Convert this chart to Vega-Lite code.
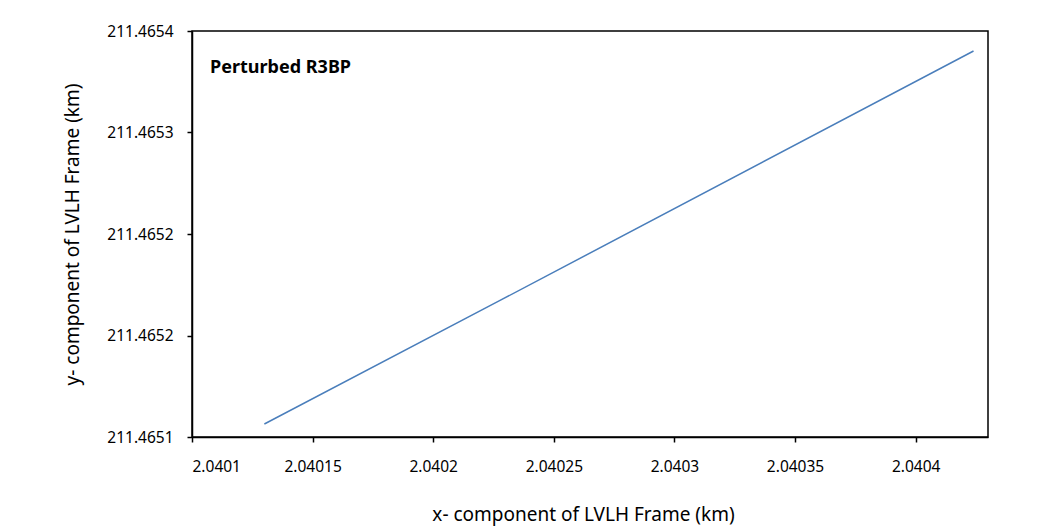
{
  "$schema": "https://vega.github.io/schema/vega-lite/v6.json",
  "autosize": "none",
  "width": 796,
  "height": 406,
  "padding": {"left": 192, "top": 31, "right": 63, "bottom": 92},
  "background": "white",
  "config": {
    "font": "Noto Sans",
    "view": {"stroke": "#000000", "strokeWidth": 1.5},
    "axis": {
      "grid": false,
      "domainColor": "#000000",
      "domainWidth": 1.5,
      "tickColor": "#000000",
      "tickWidth": 1.5,
      "tickSize": 5,
      "labelColor": "#000000",
      "labelFont": "Noto Sans",
      "labelFontSize": 15.5,
      "titleColor": "#000000",
      "titleFont": "Noto Sans",
      "titleFontSize": 19,
      "titleFontWeight": "normal"
    }
  },
  "datasets": {
    "orbit": [
      {"x": 2.04013, "y": 211.4651096},
      {"x": 2.0402277, "y": 211.4652009},
      {"x": 2.040424, "y": 211.4653852}
    ],
    "note": [
      {"x": 2.0401075, "y": 211.4653727, "label": "Perturbed R3BP"}
    ]
  },
  "layer": [
    {
      "data": {"name": "orbit"},
      "mark": {"type": "line", "color": "#4A7EBB", "strokeWidth": 1.5, "clip": true},
      "encoding": {
        "x": {
          "field": "x",
          "type": "quantitative",
          "scale": {"domain": [2.0401, 2.04043], "zero": false, "nice": false},
          "axis": {
            "title": "x- component of LVLH Frame (km)",
            "values": [2.0401, 2.04015, 2.0402, 2.04025, 2.0403, 2.04035, 2.0404],
            "labelExpr": "format(datum.value, '.5~f')",
            "labelPadding": 17,
            "titleX": 391,
            "titleY": 77,
            "titleAlign": "center",
            "titleBaseline": "middle"
          }
        },
        "y": {
          "field": "y",
          "type": "quantitative",
          "scale": {"domain": [211.4651, 211.4654], "zero": false, "nice": false},
          "axis": {
            "title": "y- component of LVLH Frame (km)",
            "values": [211.4651, 211.465175, 211.46525, 211.465325, 211.4654],
            "labelExpr": "datum.value < 211.46514 ? '211.4651' : datum.value < 211.4653 ? '211.4652' : datum.value < 211.46537 ? '211.4653' : '211.4654'",
            "labelPadding": 14,
            "titleX": -120,
            "titleY": 203,
            "titleAngle": -90,
            "titleAlign": "center",
            "titleBaseline": "middle"
          }
        },
        "order": {"field": "x", "type": "quantitative"}
      }
    },
    {
      "data": {"name": "note"},
      "mark": {"type": "text", "align": "left", "baseline": "middle", "font": "Noto Sans", "fontSize": 18, "fontWeight": "bold", "color": "#000000"},
      "encoding": {
        "x": {"field": "x", "type": "quantitative"},
        "y": {"field": "y", "type": "quantitative"},
        "text": {"field": "label"}
      }
    }
  ]
}
